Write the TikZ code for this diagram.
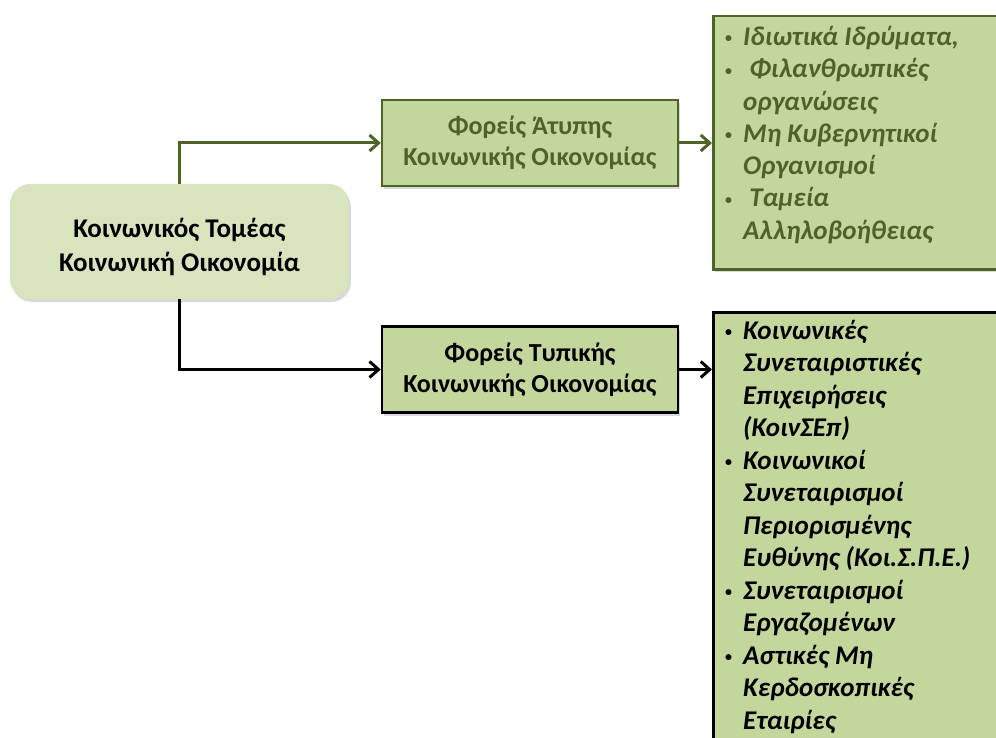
\documentclass[tikz,border=0pt]{standalone}
\usepackage{fontspec}
\setmainfont{Carlito}
\usetikzlibrary{arrows.meta,shadows}
\definecolor{oliveD}{HTML}{4F6228}
\definecolor{lightG}{HTML}{D7E4BD}
\definecolor{midG}{HTML}{C3D69B}
\tikzset{
  shade/.style={drop shadow={opacity=0.3,shadow xshift=2pt,shadow yshift=-3pt}},
  rootbox/.style={shade,fill=lightG,rounded corners=20pt,minimum width=339pt,minimum height=115pt,
     align=center,font=\fontsize{27}{34}\selectfont\bfseries},
  midbox/.style={shade,fill=midG,line width=2.5pt,minimum width=296pt,minimum height=86pt,
     align=center,font=\fontsize{26}{31}\selectfont\bfseries},
  listbox/.style={shade,fill=midG,line width=2.5pt,minimum width=300pt,anchor=north west},
  listtext/.style={anchor=north west,inner sep=0pt,align=left,
     font=\fontsize{27}{32.3}\selectfont\bfseries\itshape},
  conn/.style={line width=3pt,-{Straight Barb[length=9pt,width=16pt]}}
}
\newcommand{\bul}{\makebox[20pt][l]{\hspace*{2pt}\raisebox{2.5pt}{\fontsize{14}{14}\selectfont\upshape •}}}
\newcommand{\hng}{\hspace*{20pt}}
\begin{document}
\begin{tikzpicture}[x=1pt,y=-1pt]
\useasboundingbox (0,0) rectangle (996,738);
\node[rootbox] (root) at (179.5,241.5) {\rule{0pt}{30pt}Κοινωνικός Τομέας\\Κοινωνική Οικονομία};
\node[midbox,draw=oliveD,text=oliveD] (atyp) at (530,143) {Φορείς Άτυπης\\Κοινωνικής Οικονομίας};
\node[midbox,draw=black] (typ) at (530,369.5) {Φορείς Τυπικής\\Κοινωνικής Οικονομίας};
\node[listbox,draw=oliveD,minimum height=253pt] (l1) at (712,15) {};
\node[listbox,draw=black,minimum height=460pt] (l2) at (712,311) {};
\node[listtext,text=oliveD] (l1t) at ([xshift=11pt,yshift=-11pt]l1.north west)
 {\bul Ιδιωτικά Ιδρύματα,\\
  \bul\ Φιλανθρωπικές\\
  \hng οργανώσεις\\
  \bul Μη Κυβερνητικοί\\
  \hng Οργανισμοί\\
  \bul\ Ταμεία\\
  \hng Αλληλοβοήθειας};
\node[listtext,font=\fontsize{27}{32.5}\selectfont\bfseries\itshape] (l2t) at ([xshift=11pt,yshift=-9pt]l2.north west)
 {\bul Κοινωνικές\\
  \hng Συνεταιριστικές\\
  \hng Επιχειρήσεις\\
  \hng (ΚοινΣΕπ)\\
  \bul Κοινωνικοί\\
  \hng Συνεταιρισμοί\\
  \hng Περιορισμένης\\
  \hng Ευθύνης (Κοι.Σ.Π.Ε.)\\
  \bul Συνεταιρισμοί\\
  \hng Εργαζομένων\\
  \bul Αστικές Μη\\
  \hng Κερδοσκοπικές\\
  \hng Εταιρίες};
\draw[conn,draw=oliveD] (root.north) |- (atyp.west);
\draw[conn,draw=black] (root.south) |- (typ.west);
\draw[conn,draw=oliveD] (atyp.east) -- (atyp.east -| l1.west);
\draw[conn,draw=black] (typ.east) -- (typ.east -| l2.west);
\end{tikzpicture}
\end{document}
